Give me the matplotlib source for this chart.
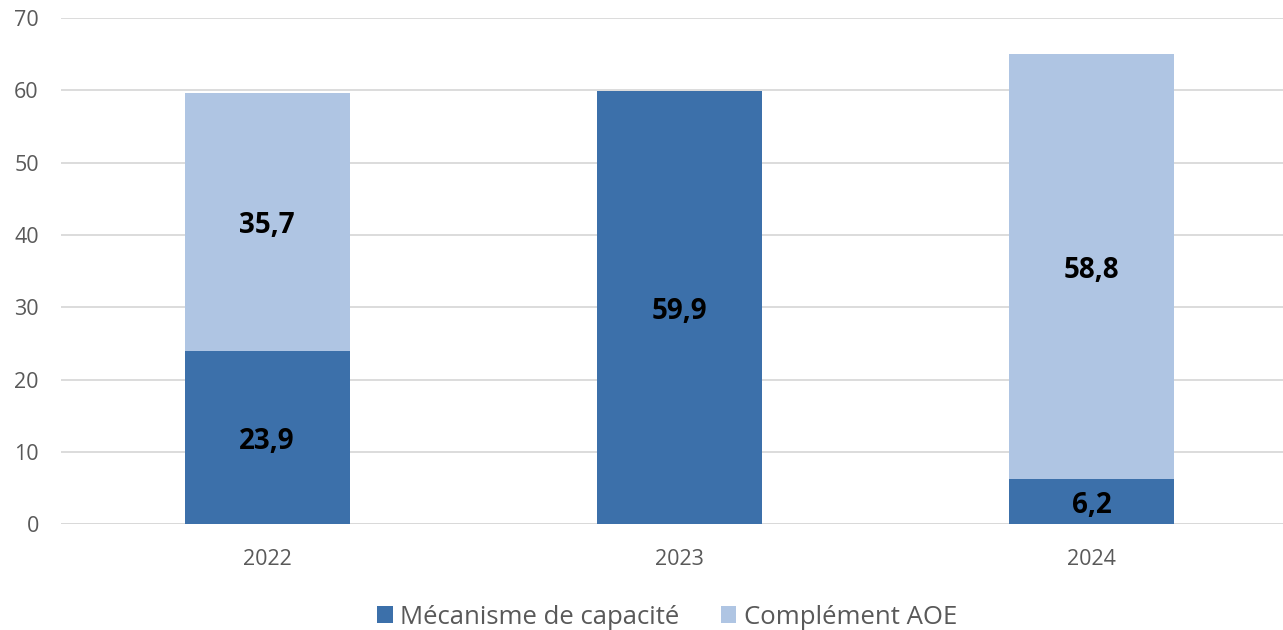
import matplotlib.pyplot as plt
import numpy as np

plt.rcParams['font.family'] = ['Open Sans', 'DejaVu Sans']

years = ["2022", "2023", "2024"]
mecanisme = [23.9, 59.9, 6.2]
complement = [35.7, 0.0, 58.8]
series_names = ["Mécanisme de capacité", "Complément AOE"]

dark = "#3C70AA"
light = "#AFC5E3"
grey = "#595959"

fig = plt.figure(figsize=(12.83, 6.30), dpi=100)
ax = fig.add_axes([61 / 1283, 1 - 524.3 / 630, 1 - 61 / 1283, (524.3 - 18) / 630])

x = np.arange(len(years))
w = 0.4
b1 = ax.bar(x, mecanisme, w, color=dark, label=series_names[0], zorder=3)
b2 = ax.bar(x, complement, w, bottom=mecanisme, color=light, label=series_names[1], zorder=3)

# value labels, nudged slightly down like in the original
for i in range(len(years)):
    if mecanisme[i] > 0:
        ax.text(x[i], mecanisme[i] / 2 - 0.5, f"{mecanisme[i]:.1f}".replace(".", ","),
                ha="center", va="center", fontsize=20, fontweight="bold", color="black", zorder=4)
    if complement[i] > 0:
        ax.text(x[i], mecanisme[i] + complement[i] / 2 - 0.5, f"{complement[i]:.1f}".replace(".", ","),
                ha="center", va="center", fontsize=20, fontweight="bold", color="black", zorder=4)

ax.set_xlim(-0.5, 2.464)
ax.set_ylim(0, 70)
ax.set_yticks(range(0, 71, 10))
ax.set_xticks(x)
ax.set_xticklabels(years)
ax.yaxis.grid(True, color="#D9D9D9", linewidth=1.3, zorder=0)
ax.tick_params(axis="both", length=0, labelsize=15.5, colors=grey)
ax.tick_params(axis="x", pad=18)
ax.tick_params(axis="y", pad=16)
for s in ax.spines.values():
    s.set_visible(False)
ax.axhline(0, color="#D9D9D9", linewidth=1.3, zorder=2)

fig.legend(handles=[b1, b2], loc="center", bbox_to_anchor=(0.52, 1 - 617 / 630),
           ncol=2, frameon=False, fontsize=18.5, labelcolor=grey,
           handlelength=0.6, handleheight=0.6, handletextpad=0.3, columnspacing=1.6)

fig.savefig("out.png", dpi=100)
